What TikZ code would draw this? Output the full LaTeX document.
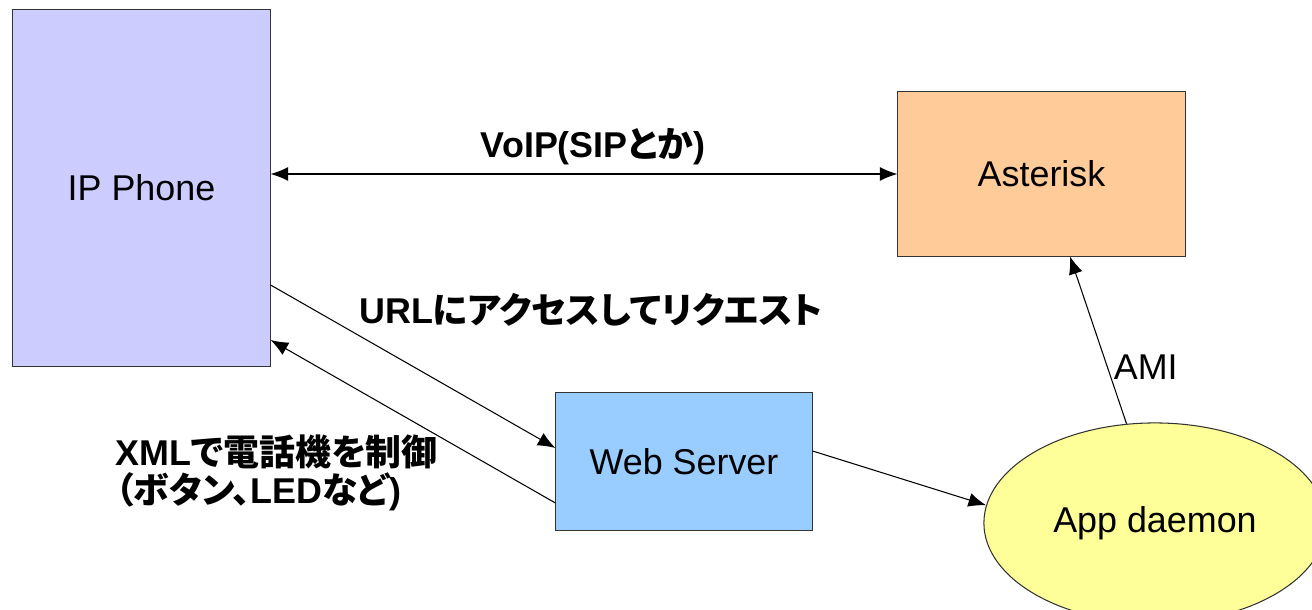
\documentclass[tikz,border=0pt]{standalone}
\usepackage{fontspec}
\setmainfont{Liberation Sans}
\newfontfamily\jp[RawFeature=+palt]{Noto Sans CJK JP}
\usetikzlibrary{arrows.meta,shapes.geometric}
\definecolor{ipc}{HTML}{CCCCFF}
\definecolor{astc}{HTML}{FFCC99}
\definecolor{webc}{HTML}{99CCFF}
\definecolor{appc}{HTML}{FFFF99}
\definecolor{edge}{HTML}{333333}
\tikzset{
  box/.style={draw=edge, line width=0.3pt, inner sep=0pt, font=\fontsize{10.2pt}{12pt}\selectfont},
  tip/.tip={Latex[length=5pt,width=4pt]},
  conn/.style={line width=0.3pt, -tip},
  lbl/.style={font=\fontsize{10.2pt}{10.6pt}\selectfont\bfseries, inner sep=0pt},
}
\begin{document}
\begin{tikzpicture}[x=0.01cm,y=-0.01cm]
\useasboundingbox[fill=white] (0,0) rectangle (1312,610);
\begin{scope}
\clip (0,0) rectangle (1312,610);
\node[box, fill=ipc, minimum width=2.57cm, minimum height=3.56cm] (ip) at (141.5,188) {IP Phone};
\node[box, fill=astc, minimum width=2.87cm, minimum height=1.64cm] (ast) at (1041.5,174) {Asterisk};
\node[box, fill=webc, minimum width=2.56cm, minimum height=1.37cm] (web) at (684,461.5) {Web Server};
\node[box, ellipse, fill=appc, minimum width=3.42cm, minimum height=2.0cm] (app) at (1155,523) {App daemon};
\end{scope}
\draw[line width=0.3pt, tip-tip] (ip.east |- ast.west) -- (ast.west);
\node[lbl] (voip) at (593,147) {VoIP(SIP{\jp とか})};
\draw[conn] (ip.east |- 0,285) -- (web.west |- 0,448);
\draw[conn] (web.west |- 0,503) -- (ip.east |- 0,340);
\node[lbl] (url) at (591,310) {URL{\jp にアクセスしてリクエスト}};
\node[lbl, align=left, anchor=west] (xml) at (115,473) {XML{\jp で電話機を制御}\\{\jp （ボタン、}LED{\jp など})};
\draw[conn] (web.east |- 0,451) -- (app.174);
\draw[conn] (app.106) -- ([xshift=0.285cm]ast.south)
  node[pos=0.34, anchor=west, xshift=0.06cm, font=\fontsize{10.2pt}{12pt}\selectfont, inner sep=0pt] (ami) {AMI};
\end{tikzpicture}
\end{document}
